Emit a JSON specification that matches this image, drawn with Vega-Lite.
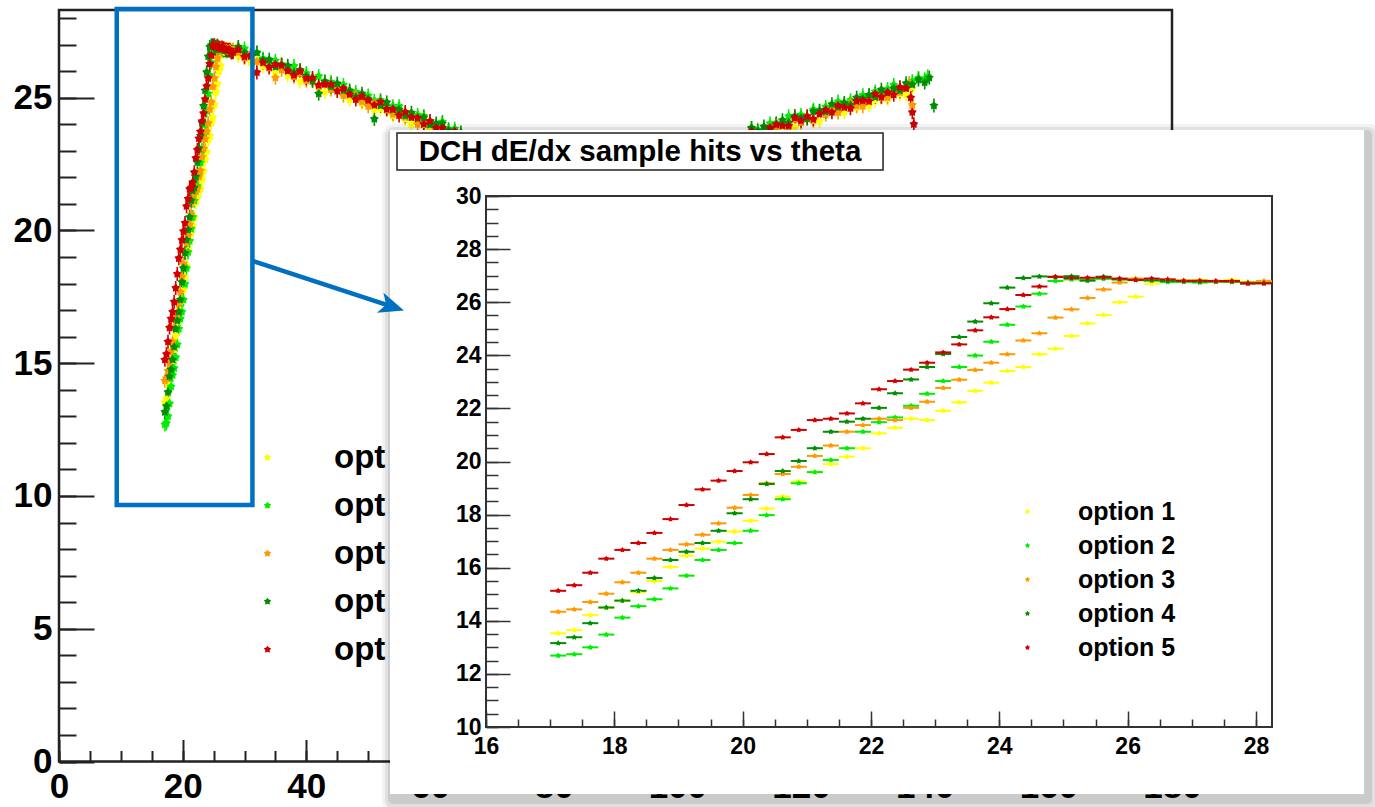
{
"$schema": "https://vega.github.io/schema/vega-lite/v6.json",
"width": 1375, "height": 807, "autosize": {"type": "none"}, "padding": 0, "background": "white",
"config": {"view": {"stroke": null}, "axis": {"grid": false}, "font": "Liberation Sans"},
"datasets": {"hits": [
{"s":"option 1","t":17.125,"v":13.53},{"s":"option 1","t":17.375,"v":13.65},{"s":"option 1","t":17.625,"v":14.22},{"s":"option 1","t":17.875,"v":14.5},{"s":"option 1","t":18.125,"v":14.76},{"s":"option 1","t":18.375,"v":15.08},{"s":"option 1","t":18.625,"v":15.5},{"s":"option 1","t":18.875,"v":16.03},{"s":"option 1","t":19.125,"v":16.45},{"s":"option 1","t":19.375,"v":16.72},{"s":"option 1","t":19.625,"v":16.98},{"s":"option 1","t":19.875,"v":17.36},{"s":"option 1","t":20.125,"v":17.77},{"s":"option 1","t":20.375,"v":18.23},{"s":"option 1","t":20.625,"v":18.68},{"s":"option 1","t":20.875,"v":19.24},{"s":"option 1","t":21.125,"v":19.6},{"s":"option 1","t":21.375,"v":19.9},{"s":"option 1","t":21.625,"v":20.18},{"s":"option 1","t":21.875,"v":20.5},{"s":"option 1","t":22.125,"v":21.06},{"s":"option 1","t":22.375,"v":21.27},{"s":"option 1","t":22.625,"v":21.61},{"s":"option 1","t":22.875,"v":21.56},{"s":"option 1","t":23.125,"v":21.91},{"s":"option 1","t":23.375,"v":22.23},{"s":"option 1","t":23.625,"v":22.66},{"s":"option 1","t":23.875,"v":22.97},{"s":"option 1","t":24.125,"v":23.41},{"s":"option 1","t":24.375,"v":23.56},{"s":"option 1","t":24.625,"v":24.04},{"s":"option 1","t":24.875,"v":24.25},{"s":"option 1","t":25.125,"v":24.73},{"s":"option 1","t":25.375,"v":25.2},{"s":"option 1","t":25.625,"v":25.52},{"s":"option 1","t":25.875,"v":26.0},{"s":"option 1","t":26.125,"v":26.21},{"s":"option 1","t":26.375,"v":26.7},{"s":"option 1","t":26.625,"v":26.85},{"s":"option 1","t":26.875,"v":26.82},{"s":"option 1","t":27.125,"v":26.84},{"s":"option 1","t":27.375,"v":26.8},{"s":"option 1","t":27.625,"v":26.84},{"s":"option 1","t":27.875,"v":26.76},{"s":"option 1","t":28.125,"v":26.78},
{"s":"option 1","t":29,"v":26.58},{"s":"option 1","t":30,"v":26.56},{"s":"option 1","t":31,"v":26.33},{"s":"option 1","t":32,"v":26.45},{"s":"option 1","t":33,"v":26.18},{"s":"option 1","t":34,"v":26.18},{"s":"option 1","t":35,"v":25.94},{"s":"option 1","t":36,"v":26.06},{"s":"option 1","t":37,"v":25.85},{"s":"option 1","t":38,"v":25.88},{"s":"option 1","t":39,"v":25.61},{"s":"option 1","t":40,"v":25.65},{"s":"option 1","t":41,"v":25.66},{"s":"option 1","t":42,"v":25.39},{"s":"option 1","t":43,"v":25.22},{"s":"option 1","t":44,"v":25.32},{"s":"option 1","t":45,"v":25.28},{"s":"option 1","t":46,"v":25.08},{"s":"option 1","t":47,"v":24.92},{"s":"option 1","t":48,"v":25.06},{"s":"option 1","t":49,"v":24.79},{"s":"option 1","t":50,"v":24.8},{"s":"option 1","t":51,"v":24.54},{"s":"option 1","t":52,"v":24.58},{"s":"option 1","t":53,"v":24.57},{"s":"option 1","t":54,"v":24.32},{"s":"option 1","t":55,"v":24.41},{"s":"option 1","t":56,"v":24.19},{"s":"option 1","t":57,"v":24.0},{"s":"option 1","t":58,"v":24.11},{"s":"option 1","t":59,"v":23.97},{"s":"option 1","t":60,"v":23.78},{"s":"option 1","t":61,"v":23.91},{"s":"option 1","t":62,"v":23.64},{"s":"option 1","t":63,"v":23.64},{"s":"option 1","t":64,"v":23.4},{"s":"option 1","t":65,"v":23.52},
{"s":"option 1","t":112,"v":23.61},{"s":"option 1","t":113,"v":23.5},{"s":"option 1","t":114,"v":23.66},{"s":"option 1","t":115,"v":23.58},{"s":"option 1","t":116,"v":23.85},{"s":"option 1","t":117,"v":23.8},{"s":"option 1","t":118,"v":23.99},{"s":"option 1","t":119,"v":23.88},{"s":"option 1","t":120,"v":24.08},{"s":"option 1","t":121,"v":24.24},{"s":"option 1","t":122,"v":24.13},{"s":"option 1","t":123,"v":24.12},{"s":"option 1","t":124,"v":24.38},{"s":"option 1","t":125,"v":24.5},{"s":"option 1","t":126,"v":24.45},{"s":"option 1","t":127,"v":24.45},{"s":"option 1","t":128,"v":24.75},{"s":"option 1","t":129,"v":24.64},{"s":"option 1","t":130,"v":24.81},{"s":"option 1","t":131,"v":24.7},{"s":"option 1","t":132,"v":24.9},{"s":"option 1","t":133,"v":25.05},{"s":"option 1","t":134,"v":24.96},{"s":"option 1","t":135,"v":25.21},{"s":"option 1","t":136,"v":25.14},{"s":"option 1","t":137,"v":25.11},{"s":"option 1","t":138,"v":25.38},
{"s":"option 2","t":17.125,"v":12.69},{"s":"option 2","t":17.375,"v":12.74},{"s":"option 2","t":17.625,"v":13.0},{"s":"option 2","t":17.875,"v":13.48},{"s":"option 2","t":18.125,"v":14.12},{"s":"option 2","t":18.375,"v":14.55},{"s":"option 2","t":18.625,"v":14.81},{"s":"option 2","t":18.875,"v":15.22},{"s":"option 2","t":19.125,"v":15.7},{"s":"option 2","t":19.375,"v":16.29},{"s":"option 2","t":19.625,"v":16.67},{"s":"option 2","t":19.875,"v":16.93},{"s":"option 2","t":20.125,"v":17.39},{"s":"option 2","t":20.375,"v":17.98},{"s":"option 2","t":20.625,"v":18.58},{"s":"option 2","t":20.875,"v":19.18},{"s":"option 2","t":21.125,"v":19.6},{"s":"option 2","t":21.375,"v":20.06},{"s":"option 2","t":21.625,"v":20.5},{"s":"option 2","t":21.875,"v":21.12},{"s":"option 2","t":22.125,"v":21.48},{"s":"option 2","t":22.375,"v":21.66},{"s":"option 2","t":22.625,"v":22.1},{"s":"option 2","t":22.875,"v":22.55},{"s":"option 2","t":23.125,"v":23.03},{"s":"option 2","t":23.375,"v":23.56},{"s":"option 2","t":23.625,"v":23.99},{"s":"option 2","t":23.875,"v":24.51},{"s":"option 2","t":24.125,"v":25.15},{"s":"option 2","t":24.375,"v":25.84},{"s":"option 2","t":24.625,"v":26.32},{"s":"option 2","t":24.875,"v":26.8},{"s":"option 2","t":25.125,"v":26.86},{"s":"option 2","t":25.375,"v":26.85},{"s":"option 2","t":25.625,"v":26.88},{"s":"option 2","t":25.875,"v":26.85},{"s":"option 2","t":26.125,"v":26.83},{"s":"option 2","t":26.375,"v":26.82},{"s":"option 2","t":26.625,"v":26.76},{"s":"option 2","t":26.875,"v":26.78},{"s":"option 2","t":27.125,"v":26.74},{"s":"option 2","t":27.375,"v":26.78},{"s":"option 2","t":27.625,"v":26.76},{"s":"option 2","t":27.875,"v":26.74},{"s":"option 2","t":28.125,"v":26.72},
{"s":"option 2","t":29,"v":26.86},{"s":"option 2","t":30,"v":26.85},{"s":"option 2","t":31,"v":26.61},{"s":"option 2","t":32,"v":26.7},{"s":"option 2","t":33,"v":26.47},{"s":"option 2","t":34,"v":26.28},{"s":"option 2","t":35,"v":26.39},{"s":"option 2","t":36,"v":26.26},{"s":"option 2","t":37,"v":26.07},{"s":"option 2","t":38,"v":26.19},{"s":"option 2","t":39,"v":25.92},{"s":"option 2","t":40,"v":25.92},{"s":"option 2","t":41,"v":25.69},{"s":"option 2","t":42,"v":25.81},{"s":"option 2","t":43,"v":25.61},{"s":"option 2","t":44,"v":25.59},{"s":"option 2","t":45,"v":25.35},{"s":"option 2","t":46,"v":25.48},{"s":"option 2","t":47,"v":25.21},{"s":"option 2","t":48,"v":25.21},{"s":"option 2","t":49,"v":24.97},{"s":"option 2","t":50,"v":25.08},{"s":"option 2","t":51,"v":24.88},{"s":"option 2","t":52,"v":24.91},{"s":"option 2","t":53,"v":24.64},{"s":"option 2","t":54,"v":24.68},{"s":"option 2","t":55,"v":24.68},{"s":"option 2","t":56,"v":24.42},{"s":"option 2","t":57,"v":24.25},{"s":"option 2","t":58,"v":24.35},{"s":"option 2","t":59,"v":24.31},{"s":"option 2","t":60,"v":24.1},{"s":"option 2","t":61,"v":23.95},{"s":"option 2","t":62,"v":24.09},{"s":"option 2","t":63,"v":23.82},{"s":"option 2","t":64,"v":23.83},{"s":"option 2","t":65,"v":23.56},
{"s":"option 2","t":112,"v":23.86},{"s":"option 2","t":113,"v":23.79},{"s":"option 2","t":114,"v":23.76},{"s":"option 2","t":115,"v":24.03},{"s":"option 2","t":116,"v":24.05},{"s":"option 2","t":117,"v":24.02},{"s":"option 2","t":118,"v":24.3},{"s":"option 2","t":119,"v":24.19},{"s":"option 2","t":120,"v":24.35},{"s":"option 2","t":121,"v":24.27},{"s":"option 2","t":122,"v":24.55},{"s":"option 2","t":123,"v":24.51},{"s":"option 2","t":124,"v":24.65},{"s":"option 2","t":125,"v":24.57},{"s":"option 2","t":126,"v":24.85},{"s":"option 2","t":127,"v":24.74},{"s":"option 2","t":128,"v":24.9},{"s":"option 2","t":129,"v":24.82},{"s":"option 2","t":130,"v":25.09},{"s":"option 2","t":131,"v":25.04},{"s":"option 2","t":132,"v":25.23},{"s":"option 2","t":133,"v":25.12},{"s":"option 2","t":134,"v":25.32},{"s":"option 2","t":135,"v":25.48},{"s":"option 2","t":136,"v":25.37},{"s":"option 2","t":137,"v":25.36},{"s":"option 2","t":138,"v":25.62},{"s":"option 2","t":139,"v":25.74},{"s":"option 2","t":140,"v":25.69},{"s":"option 2","t":140.5,"v":25.8},
{"s":"option 3","t":17.125,"v":14.34},{"s":"option 3","t":17.375,"v":14.43},{"s":"option 3","t":17.625,"v":14.71},{"s":"option 3","t":17.875,"v":15.02},{"s":"option 3","t":18.125,"v":15.45},{"s":"option 3","t":18.375,"v":15.81},{"s":"option 3","t":18.625,"v":16.34},{"s":"option 3","t":18.875,"v":16.67},{"s":"option 3","t":19.125,"v":16.88},{"s":"option 3","t":19.375,"v":17.24},{"s":"option 3","t":19.625,"v":17.67},{"s":"option 3","t":19.875,"v":18.26},{"s":"option 3","t":20.125,"v":18.74},{"s":"option 3","t":20.375,"v":19.18},{"s":"option 3","t":20.625,"v":19.53},{"s":"option 3","t":20.875,"v":19.8},{"s":"option 3","t":21.125,"v":20.21},{"s":"option 3","t":21.375,"v":20.6},{"s":"option 3","t":21.625,"v":21.12},{"s":"option 3","t":21.875,"v":21.37},{"s":"option 3","t":22.125,"v":21.61},{"s":"option 3","t":22.375,"v":21.56},{"s":"option 3","t":22.625,"v":22.02},{"s":"option 3","t":22.875,"v":22.25},{"s":"option 3","t":23.125,"v":22.77},{"s":"option 3","t":23.375,"v":23.08},{"s":"option 3","t":23.625,"v":23.45},{"s":"option 3","t":23.875,"v":23.72},{"s":"option 3","t":24.125,"v":24.04},{"s":"option 3","t":24.375,"v":24.56},{"s":"option 3","t":24.625,"v":24.83},{"s":"option 3","t":24.875,"v":25.42},{"s":"option 3","t":25.125,"v":25.73},{"s":"option 3","t":25.375,"v":26.16},{"s":"option 3","t":25.625,"v":26.48},{"s":"option 3","t":25.875,"v":26.74},{"s":"option 3","t":26.125,"v":26.89},{"s":"option 3","t":26.375,"v":26.85},{"s":"option 3","t":26.625,"v":26.82},{"s":"option 3","t":26.875,"v":26.8},{"s":"option 3","t":27.125,"v":26.8},{"s":"option 3","t":27.375,"v":26.78},{"s":"option 3","t":27.625,"v":26.78},{"s":"option 3","t":27.875,"v":26.75},{"s":"option 3","t":28.125,"v":26.8},
{"s":"option 3","t":29,"v":26.69},{"s":"option 3","t":30,"v":26.5},{"s":"option 3","t":31,"v":26.63},{"s":"option 3","t":32,"v":26.36},{"s":"option 3","t":33,"v":26.36},{"s":"option 3","t":34,"v":26.12},{"s":"option 3","t":35,"v":25.75},{"s":"option 3","t":36,"v":26.05},{"s":"option 3","t":37,"v":26.03},{"s":"option 3","t":38,"v":25.79},{"s":"option 3","t":39,"v":25.91},{"s":"option 3","t":40,"v":25.64},{"s":"option 3","t":41,"v":25.65},{"s":"option 3","t":42,"v":25.41},{"s":"option 3","t":43,"v":25.52},{"s":"option 3","t":44,"v":25.31},{"s":"option 3","t":45,"v":25.34},{"s":"option 3","t":46,"v":25.08},{"s":"option 3","t":47,"v":25.12},{"s":"option 3","t":48,"v":25.12},{"s":"option 3","t":49,"v":24.85},{"s":"option 3","t":50,"v":24.68},{"s":"option 3","t":51,"v":24.79},{"s":"option 3","t":52,"v":24.75},{"s":"option 3","t":53,"v":24.54},{"s":"option 3","t":54,"v":24.38},{"s":"option 3","t":55,"v":24.52},{"s":"option 3","t":56,"v":24.26},{"s":"option 3","t":57,"v":24.27},{"s":"option 3","t":58,"v":24.0},{"s":"option 3","t":59,"v":24.04},{"s":"option 3","t":60,"v":24.03},{"s":"option 3","t":61,"v":23.79},{"s":"option 3","t":62,"v":23.88},{"s":"option 3","t":63,"v":23.65},{"s":"option 3","t":64,"v":23.46},{"s":"option 3","t":65,"v":23.57},
{"s":"option 3","t":112,"v":23.51},{"s":"option 3","t":113,"v":23.67},{"s":"option 3","t":114,"v":23.59},{"s":"option 3","t":115,"v":23.87},{"s":"option 3","t":116,"v":23.83},{"s":"option 3","t":117,"v":23.97},{"s":"option 3","t":118,"v":23.89},{"s":"option 3","t":119,"v":24.17},{"s":"option 3","t":120,"v":24.06},{"s":"option 3","t":121,"v":24.22},{"s":"option 3","t":122,"v":24.14},{"s":"option 3","t":123,"v":24.41},{"s":"option 3","t":124,"v":24.36},{"s":"option 3","t":125,"v":24.55},{"s":"option 3","t":126,"v":24.44},{"s":"option 3","t":127,"v":24.64},{"s":"option 3","t":128,"v":24.8},{"s":"option 3","t":129,"v":24.69},{"s":"option 3","t":130,"v":24.68},{"s":"option 3","t":131,"v":24.94},{"s":"option 3","t":132,"v":25.06},{"s":"option 3","t":133,"v":25.01},{"s":"option 3","t":134,"v":25.01},{"s":"option 3","t":135,"v":25.31},{"s":"option 3","t":136,"v":25.2},{"s":"option 3","t":137,"v":25.37},{"s":"option 3","t":137.5,"v":25.55},{"s":"option 3","t":138,"v":24.72},
{"s":"option 4","t":17.125,"v":13.16},{"s":"option 4","t":17.375,"v":13.38},{"s":"option 4","t":17.625,"v":13.91},{"s":"option 4","t":17.875,"v":14.5},{"s":"option 4","t":18.125,"v":14.76},{"s":"option 4","t":18.375,"v":15.13},{"s":"option 4","t":18.625,"v":15.61},{"s":"option 4","t":18.875,"v":16.29},{"s":"option 4","t":19.125,"v":16.6},{"s":"option 4","t":19.375,"v":16.93},{"s":"option 4","t":19.625,"v":17.39},{"s":"option 4","t":19.875,"v":18.05},{"s":"option 4","t":20.125,"v":18.58},{"s":"option 4","t":20.375,"v":19.15},{"s":"option 4","t":20.625,"v":19.64},{"s":"option 4","t":20.875,"v":20.02},{"s":"option 4","t":21.125,"v":20.5},{"s":"option 4","t":21.375,"v":21.12},{"s":"option 4","t":21.625,"v":21.5},{"s":"option 4","t":21.875,"v":21.61},{"s":"option 4","t":22.125,"v":22.02},{"s":"option 4","t":22.375,"v":22.57},{"s":"option 4","t":22.625,"v":23.09},{"s":"option 4","t":22.875,"v":23.56},{"s":"option 4","t":23.125,"v":24.05},{"s":"option 4","t":23.375,"v":24.69},{"s":"option 4","t":23.625,"v":25.27},{"s":"option 4","t":23.875,"v":25.96},{"s":"option 4","t":24.125,"v":26.55},{"s":"option 4","t":24.375,"v":26.91},{"s":"option 4","t":24.625,"v":26.97},{"s":"option 4","t":24.875,"v":26.95},{"s":"option 4","t":25.125,"v":26.98},{"s":"option 4","t":25.375,"v":26.81},{"s":"option 4","t":25.625,"v":26.96},{"s":"option 4","t":25.875,"v":26.87},{"s":"option 4","t":26.125,"v":26.84},{"s":"option 4","t":26.375,"v":26.82},{"s":"option 4","t":26.625,"v":26.8},{"s":"option 4","t":26.875,"v":26.78},{"s":"option 4","t":27.125,"v":26.78},{"s":"option 4","t":27.375,"v":26.78},{"s":"option 4","t":27.625,"v":26.78},{"s":"option 4","t":27.875,"v":26.72},{"s":"option 4","t":28.125,"v":26.72},
{"s":"option 4","t":29,"v":26.91},{"s":"option 4","t":30,"v":26.7},{"s":"option 4","t":31,"v":26.55},{"s":"option 4","t":32,"v":26.69},{"s":"option 4","t":33,"v":26.42},{"s":"option 4","t":34,"v":26.43},{"s":"option 4","t":35,"v":26.16},{"s":"option 4","t":36,"v":26.21},{"s":"option 4","t":37,"v":26.2},{"s":"option 4","t":38,"v":25.95},{"s":"option 4","t":39,"v":26.04},{"s":"option 4","t":40,"v":25.81},{"s":"option 4","t":41,"v":25.63},{"s":"option 4","t":42,"v":25.15},{"s":"option 4","t":43,"v":25.6},{"s":"option 4","t":44,"v":25.41},{"s":"option 4","t":45,"v":25.53},{"s":"option 4","t":46,"v":25.27},{"s":"option 4","t":47,"v":25.27},{"s":"option 4","t":48,"v":25.03},{"s":"option 4","t":49,"v":25.15},{"s":"option 4","t":50,"v":24.95},{"s":"option 4","t":51,"v":24.2},{"s":"option 4","t":52,"v":24.7},{"s":"option 4","t":53,"v":24.82},{"s":"option 4","t":54,"v":24.55},{"s":"option 4","t":55,"v":24.55},{"s":"option 4","t":56,"v":24.32},{"s":"option 4","t":57,"v":24.43},{"s":"option 4","t":58,"v":24.22},{"s":"option 4","t":59,"v":24.25},{"s":"option 4","t":60,"v":23.98},{"s":"option 4","t":61,"v":24.03},{"s":"option 4","t":62,"v":24.03},{"s":"option 4","t":63,"v":23.76},{"s":"option 4","t":64,"v":23.59},{"s":"option 4","t":65,"v":23.69},
{"s":"option 4","t":112,"v":23.85},{"s":"option 4","t":113,"v":23.74},{"s":"option 4","t":114,"v":23.91},{"s":"option 4","t":115,"v":23.8},{"s":"option 4","t":116,"v":24.0},{"s":"option 4","t":117,"v":24.15},{"s":"option 4","t":118,"v":24.06},{"s":"option 4","t":119,"v":24.31},{"s":"option 4","t":120,"v":24.24},{"s":"option 4","t":121,"v":24.21},{"s":"option 4","t":122,"v":24.48},{"s":"option 4","t":123,"v":24.5},{"s":"option 4","t":124,"v":24.47},{"s":"option 4","t":125,"v":24.75},{"s":"option 4","t":126,"v":24.64},{"s":"option 4","t":127,"v":24.8},{"s":"option 4","t":128,"v":24.72},{"s":"option 4","t":129,"v":25.0},{"s":"option 4","t":130,"v":24.96},{"s":"option 4","t":131,"v":25.1},{"s":"option 4","t":132,"v":25.02},{"s":"option 4","t":133,"v":25.3},{"s":"option 4","t":134,"v":25.19},{"s":"option 4","t":135,"v":25.35},{"s":"option 4","t":136,"v":25.27},{"s":"option 4","t":137,"v":25.54},{"s":"option 4","t":138,"v":25.49},{"s":"option 4","t":139,"v":25.68},{"s":"option 4","t":140,"v":25.57},{"s":"option 4","t":140.75,"v":25.75},{"s":"option 4","t":141.5,"v":24.7},
{"s":"option 5","t":17.125,"v":15.13},{"s":"option 5","t":17.375,"v":15.34},{"s":"option 5","t":17.625,"v":15.81},{"s":"option 5","t":17.875,"v":16.34},{"s":"option 5","t":18.125,"v":16.67},{"s":"option 5","t":18.375,"v":16.93},{"s":"option 5","t":18.625,"v":17.31},{"s":"option 5","t":18.875,"v":17.83},{"s":"option 5","t":19.125,"v":18.36},{"s":"option 5","t":19.375,"v":18.95},{"s":"option 5","t":19.625,"v":19.28},{"s":"option 5","t":19.875,"v":19.64},{"s":"option 5","t":20.125,"v":19.97},{"s":"option 5","t":20.375,"v":20.28},{"s":"option 5","t":20.625,"v":20.91},{"s":"option 5","t":20.875,"v":21.19},{"s":"option 5","t":21.125,"v":21.56},{"s":"option 5","t":21.375,"v":21.61},{"s":"option 5","t":21.625,"v":21.81},{"s":"option 5","t":21.875,"v":22.19},{"s":"option 5","t":22.125,"v":22.72},{"s":"option 5","t":22.375,"v":23.03},{"s":"option 5","t":22.625,"v":23.46},{"s":"option 5","t":22.875,"v":23.72},{"s":"option 5","t":23.125,"v":24.11},{"s":"option 5","t":23.375,"v":24.41},{"s":"option 5","t":23.625,"v":24.94},{"s":"option 5","t":23.875,"v":25.43},{"s":"option 5","t":24.125,"v":25.74},{"s":"option 5","t":24.375,"v":26.27},{"s":"option 5","t":24.625,"v":26.59},{"s":"option 5","t":24.875,"v":26.96},{"s":"option 5","t":25.125,"v":26.91},{"s":"option 5","t":25.375,"v":26.92},{"s":"option 5","t":25.625,"v":26.93},{"s":"option 5","t":25.875,"v":26.89},{"s":"option 5","t":26.125,"v":26.84},{"s":"option 5","t":26.375,"v":26.89},{"s":"option 5","t":26.625,"v":26.86},{"s":"option 5","t":26.875,"v":26.81},{"s":"option 5","t":27.125,"v":26.81},{"s":"option 5","t":27.375,"v":26.8},{"s":"option 5","t":27.625,"v":26.8},{"s":"option 5","t":27.875,"v":26.7},{"s":"option 5","t":28.125,"v":26.71},
{"s":"option 5","t":29,"v":26.81},{"s":"option 5","t":30,"v":26.54},{"s":"option 5","t":31,"v":26.59},{"s":"option 5","t":32,"v":25.95},{"s":"option 5","t":33,"v":26.32},{"s":"option 5","t":34,"v":26.15},{"s":"option 5","t":35,"v":26.25},{"s":"option 5","t":36,"v":26.22},{"s":"option 5","t":37,"v":26.01},{"s":"option 5","t":38,"v":25.85},{"s":"option 5","t":39,"v":25.99},{"s":"option 5","t":40,"v":25.72},{"s":"option 5","t":41,"v":25.74},{"s":"option 5","t":42,"v":25.47},{"s":"option 5","t":43,"v":25.51},{"s":"option 5","t":44,"v":25.5},{"s":"option 5","t":45,"v":25.25},{"s":"option 5","t":46,"v":25.35},{"s":"option 5","t":47,"v":25.12},{"s":"option 5","t":48,"v":24.93},{"s":"option 5","t":49,"v":25.04},{"s":"option 5","t":50,"v":24.9},{"s":"option 5","t":51,"v":24.72},{"s":"option 5","t":52,"v":24.84},{"s":"option 5","t":53,"v":24.57},{"s":"option 5","t":54,"v":24.57},{"s":"option 5","t":55,"v":24.33},{"s":"option 5","t":56,"v":24.46},{"s":"option 5","t":57,"v":24.26},{"s":"option 5","t":58,"v":24.24},{"s":"option 5","t":59,"v":24.0},{"s":"option 5","t":60,"v":24.12},{"s":"option 5","t":61,"v":23.86},{"s":"option 5","t":62,"v":23.86},{"s":"option 5","t":63,"v":23.62},{"s":"option 5","t":64,"v":23.73},{"s":"option 5","t":65,"v":23.52},
{"s":"option 5","t":112,"v":23.73},{"s":"option 5","t":113,"v":23.62},{"s":"option 5","t":114,"v":23.61},{"s":"option 5","t":115,"v":23.87},{"s":"option 5","t":116,"v":23.99},{"s":"option 5","t":117,"v":23.94},{"s":"option 5","t":118,"v":23.94},{"s":"option 5","t":119,"v":24.24},{"s":"option 5","t":120,"v":24.13},{"s":"option 5","t":121,"v":24.3},{"s":"option 5","t":122,"v":24.19},{"s":"option 5","t":123,"v":24.39},{"s":"option 5","t":124,"v":24.54},{"s":"option 5","t":125,"v":24.45},{"s":"option 5","t":126,"v":24.7},{"s":"option 5","t":127,"v":24.63},{"s":"option 5","t":128,"v":24.6},{"s":"option 5","t":129,"v":24.87},{"s":"option 5","t":130,"v":24.89},{"s":"option 5","t":131,"v":24.86},{"s":"option 5","t":132,"v":25.14},{"s":"option 5","t":133,"v":25.03},{"s":"option 5","t":134,"v":25.19},{"s":"option 5","t":135,"v":25.11},{"s":"option 5","t":136,"v":25.39},{"s":"option 5","t":137,"v":25.35},{"s":"option 5","t":137.75,"v":25.0},{"s":"option 5","t":138,"v":24.45},{"s":"option 5","t":138.25,"v":24.0}
]},
"data": {"name": "hits"},
"resolve": {"scale": {"x": "independent", "y": "independent", "color": "independent"}, "axis": {"x": "independent", "y": "independent"}, "legend": {"color": "independent"}},
"layer": [
{"data": {"values": [{}]},
 "mark": {"type": "rect", "filled": false, "stroke": "#222222", "strokeWidth": 2.5},
 "encoding": {
  "x": {"datum": 0, "type": "quantitative", "scale": {"domain": [0, 180], "range": [59, 1172], "nice": false, "zero": false},
        "axis": {"orient": "bottom", "offset": -45.5, "title": null, "values": [0,5,10,15,20,25,30,35,40,45,50,55,60,65,70,75,80,85,90,95,100,105,110,115,120,125,130,135,140,145,150,155,160,165,170,175,180], "tickSize": -11, "tickWidth": 2, "tickColor": "#222222", "labels": false, "domain": false, "grid": false, "zindex": 0}},
  "x2": {"datum": 180},
  "y": {"datum": 0, "type": "quantitative", "scale": {"domain": [0, 28.3], "range": [761.5, 10], "nice": false, "zero": false},
        "axis": {"orient": "left", "offset": -59, "title": null, "values": [0,1,2,3,4,5,6,7,8,9,10,11,12,13,14,15,16,17,18,19,20,21,22,23,24,25,26,27,28], "tickSize": -17, "tickWidth": 2, "tickColor": "#222222", "labels": false, "domain": false, "grid": false, "zindex": 0}},
  "y2": {"datum": 28.3}}},
{"mark": {"type": "tick", "orient": "vertical", "size": 14, "thickness": 1.6, "opacity": 1},
 "encoding": {
  "x": {"field": "t", "type": "quantitative", "scale": {"domain": [0, 180], "range": [59, 1172], "nice": false, "zero": false},
        "axis": {"orient": "bottom", "offset": -45.5, "title": null, "values": [0,20,40,60,80,100,120,140,160,180], "tickSize": -22, "tickWidth": 2, "tickColor": "#222222", "labels": false, "domain": false, "grid": false, "zindex": 0}},
  "y": {"field": "v", "type": "quantitative", "scale": {"domain": [0, 28.3], "range": [761.5, 10], "nice": false, "zero": false},
        "axis": {"orient": "left", "offset": -59, "title": null, "values": [0,5,10,15,20,25], "tickSize": -35, "tickWidth": 2, "tickColor": "#222222", "labels": false, "domain": false, "grid": false, "zindex": 0}},
  "color": {"field": "s", "type": "nominal", "legend": null,
            "scale": {"domain": ["option 1","option 2","option 3","option 4","option 5"], "range": ["#ffff00","#00ee00","#ff9900","#008f00","#d00000"]}}}},
{"mark": {"type": "point", "filled": true, "opacity": 1, "size": 90, "strokeWidth": 0,
          "shape": "M0,-1L0.35,-0.49L0.95,-0.31L0.57,0.19L0.59,0.81L0,0.6L-0.59,0.81L-0.57,0.19L-0.95,-0.31L-0.35,-0.49Z"},
 "encoding": {
  "x": {"field": "t", "type": "quantitative", "scale": {"domain": [0, 180], "range": [59, 1172], "nice": false, "zero": false},
        "axis": {"orient": "bottom", "offset": -45.5, "title": null, "values": [0,20,40,60,80,100,120,140,160,180], "ticks": false, "domain": false, "grid": false, "labelPadding": 8, "labelFont": "Liberation Sans", "labelFontWeight": "bold", "labelFontSize": 35, "labelColor": "#000000", "labelFlush": false, "labelOverlap": false, "zindex": 0}},
  "y": {"field": "v", "type": "quantitative", "scale": {"domain": [0, 28.3], "range": [761.5, 10], "nice": false, "zero": false},
        "axis": {"orient": "left", "offset": -59, "title": null, "values": [0,5,10,15,20,25], "ticks": false, "domain": false, "grid": false, "labelPadding": 7, "labelFont": "Liberation Sans", "labelFontWeight": "bold", "labelFontSize": 35, "labelColor": "#000000", "labelFlush": false, "labelOverlap": false, "zindex": 0}},
  "color": {"field": "s", "type": "nominal",
            "scale": {"domain": ["option 1","option 2","option 3","option 4","option 5"], "range": ["#ffff00","#00ee00","#ff9900","#008f00","#d00000"]},
            "legend": {"orient": "none", "legendX": 251, "legendY": 441, "title": null, "padding": 0,
                       "symbolType": "M0,-1L0.35,-0.49L0.95,-0.31L0.57,0.19L0.59,0.81L0,0.6L-0.59,0.81L-0.57,0.19L-0.95,-0.31L-0.35,-0.49Z",
                       "symbolSize": 60, "symbolStrokeWidth": 0, "labelFont": "Liberation Sans", "labelFontWeight": "bold", "labelFontSize": 33, "labelColor": "#000000",
                       "labelOffset": 50, "rowPadding": 14, "labelLimit": 300, "labelExpr": "substring(datum.label, 0, 3)"}}}},
{"data": {"values": [{}]},
 "mark": {"type": "rect", "filled": false, "stroke": "#0070c0", "strokeWidth": 4.5},
 "encoding": {
  "x": {"datum": 9.34, "type": "quantitative", "scale": {"domain": [0, 180], "range": [59, 1172], "nice": false, "zero": false}, "axis": null},
  "x2": {"datum": 31.28},
  "y": {"datum": 9.66, "type": "quantitative", "scale": {"domain": [0, 28.3], "range": [761.5, 10], "nice": false, "zero": false}, "axis": null},
  "y2": {"datum": 28.34}}},
{"data": {"values": [{}]},
 "mark": {"type": "rect", "filled": false, "stroke": "#000000", "strokeOpacity": 0.05, "strokeWidth": 26, "strokeJoin": "round", "xOffset": 5, "x2Offset": 5, "yOffset": 7, "y2Offset": 7},
 "encoding": {
  "x": {"datum": 14.504, "type": "quantitative", "scale": {"domain": [16, 28.25], "range": [486, 1272], "nice": false, "zero": false}, "axis": null},
  "x2": {"datum": 29.685},
  "y": {"datum": 32.486, "type": "quantitative", "scale": {"domain": [10, 30], "range": [727, 196], "nice": false, "zero": false}, "axis": null},
  "y2": {"datum": 7.477}}},
{"data": {"values": [{}]},
 "mark": {"type": "rect", "filled": false, "stroke": "#000000", "strokeOpacity": 0.07, "strokeWidth": 18, "strokeJoin": "round", "xOffset": 4, "x2Offset": 4, "yOffset": 6, "y2Offset": 6},
 "encoding": {
  "x": {"datum": 14.504, "type": "quantitative", "scale": {"domain": [16, 28.25], "range": [486, 1272], "nice": false, "zero": false}, "axis": null},
  "x2": {"datum": 29.685},
  "y": {"datum": 32.486, "type": "quantitative", "scale": {"domain": [10, 30], "range": [727, 196], "nice": false, "zero": false}, "axis": null},
  "y2": {"datum": 7.477}}},
{"data": {"values": [{}]},
 "mark": {"type": "rect", "filled": false, "stroke": "#000000", "strokeOpacity": 0.09, "strokeWidth": 10, "strokeJoin": "round", "xOffset": 3, "x2Offset": 3, "yOffset": 5, "y2Offset": 5},
 "encoding": {
  "x": {"datum": 14.504, "type": "quantitative", "scale": {"domain": [16, 28.25], "range": [486, 1272], "nice": false, "zero": false}, "axis": null},
  "x2": {"datum": 29.685},
  "y": {"datum": 32.486, "type": "quantitative", "scale": {"domain": [10, 30], "range": [727, 196], "nice": false, "zero": false}, "axis": null},
  "y2": {"datum": 7.477}}},
{"data": {"values": [{}]},
 "mark": {"type": "rect", "fill": "#ffffff", "stroke": null},
 "encoding": {
  "x": {"datum": 14.504, "type": "quantitative", "scale": {"domain": [16, 28.25], "range": [486, 1272], "nice": false, "zero": false}, "axis": null},
  "x2": {"datum": 29.685},
  "y": {"datum": 32.486, "type": "quantitative", "scale": {"domain": [10, 30], "range": [727, 196], "nice": false, "zero": false}, "axis": null},
  "y2": {"datum": 7.477}}},
{"data": {"values": [{}]},
 "mark": {"type": "rect", "fill": "#ffffff", "stroke": "#222222", "strokeWidth": 1.5},
 "encoding": {
  "x": {"datum": 14.613, "type": "quantitative", "scale": {"domain": [16, 28.25], "range": [486, 1272], "nice": false, "zero": false}, "axis": null},
  "x2": {"datum": 22.188},
  "y": {"datum": 32.373, "type": "quantitative", "scale": {"domain": [10, 30], "range": [727, 196], "nice": false, "zero": false}, "axis": null},
  "y2": {"datum": 30.979}}},
{"data": {"values": [{}]},
 "mark": {"type": "text", "font": "Liberation Sans", "fontWeight": "bold", "fontSize": 29.5, "align": "center", "baseline": "middle", "color": "#000000"},
 "encoding": {
  "x": {"datum": 18.4, "type": "quantitative", "scale": {"domain": [16, 28.25], "range": [486, 1272], "nice": false, "zero": false}, "axis": null},
  "y": {"datum": 31.676, "type": "quantitative", "scale": {"domain": [10, 30], "range": [727, 196], "nice": false, "zero": false}, "axis": null},
  "text": {"value": "DCH dE/dx sample hits vs theta"}}},
{"data": {"values": [{}]},
 "mark": {"type": "rect", "filled": false, "stroke": "#333333", "strokeWidth": 2},
 "encoding": {
  "x": {"datum": 16, "type": "quantitative", "scale": {"domain": [16, 28.25], "range": [486, 1272], "nice": false, "zero": false},
        "axis": {"orient": "bottom", "offset": -80, "title": null, "values": [16,16.5,17,17.5,18,18.5,19,19.5,20,20.5,21,21.5,22,22.5,23,23.5,24,24.5,25,25.5,26,26.5,27,27.5,28], "tickSize": -8, "tickWidth": 1.5, "tickColor": "#333333", "labels": false, "domain": false, "grid": false, "zindex": 1}},
  "x2": {"datum": 28.25},
  "y": {"datum": 10, "type": "quantitative", "scale": {"domain": [10, 30], "range": [727, 196], "nice": false, "zero": false},
        "axis": {"orient": "left", "offset": -486, "title": null, "values": [10,10.5,11,11.5,12,12.5,13,13.5,14,14.5,15,15.5,16,16.5,17,17.5,18,18.5,19,19.5,20,20.5,21,21.5,22,22.5,23,23.5,24,24.5,25,25.5,26,26.5,27,27.5,28,28.5,29,29.5,30], "tickSize": -12, "tickWidth": 1.5, "tickColor": "#333333", "labels": false, "domain": false, "grid": false, "zindex": 1}},
  "y2": {"datum": 30}}},
{"data": {"name": "hits"},
 "transform": [{"filter": "datum.t < 28.3"}],
 "mark": {"type": "tick", "orient": "horizontal", "size": 16, "thickness": 2, "opacity": 1},
 "encoding": {
  "x": {"field": "t", "type": "quantitative", "scale": {"domain": [16, 28.25], "range": [486, 1272], "nice": false, "zero": false},
        "axis": {"orient": "bottom", "offset": -80, "title": null, "values": [16,18,20,22,24,26,28], "tickSize": -16, "tickWidth": 1.5, "tickColor": "#333333", "labels": false, "domain": false, "grid": false, "zindex": 1}},
  "y": {"field": "v", "type": "quantitative", "scale": {"domain": [10, 30], "range": [727, 196], "nice": false, "zero": false},
        "axis": {"orient": "left", "offset": -486, "title": null, "values": [10,12,14,16,18,20,22,24,26,28,30], "tickSize": -24, "tickWidth": 1.5, "tickColor": "#333333", "labels": false, "domain": false, "grid": false, "zindex": 1}},
  "color": {"field": "s", "type": "nominal", "legend": null,
            "scale": {"domain": ["option 1","option 2","option 3","option 4","option 5"], "range": ["#ffff00","#00ee00","#ff9900","#008f00","#d00000"]}}}},
{"data": {"name": "hits"},
 "transform": [{"filter": "datum.t < 28.3"}],
 "mark": {"type": "point", "filled": true, "opacity": 1, "size": 36, "strokeWidth": 0,
          "shape": "M0,-1L0.35,-0.49L0.95,-0.31L0.57,0.19L0.59,0.81L0,0.6L-0.59,0.81L-0.57,0.19L-0.95,-0.31L-0.35,-0.49Z"},
 "encoding": {
  "x": {"field": "t", "type": "quantitative", "scale": {"domain": [16, 28.25], "range": [486, 1272], "nice": false, "zero": false},
        "axis": {"orient": "bottom", "offset": -80, "title": null, "values": [16,18,20,22,24,26,28], "ticks": false, "domain": false, "grid": false, "labelPadding": 8, "labelFont": "Liberation Sans", "labelFontWeight": "bold", "labelFontSize": 23, "labelColor": "#000000", "labelFlush": false, "labelOverlap": false, "zindex": 1}},
  "y": {"field": "v", "type": "quantitative", "scale": {"domain": [10, 30], "range": [727, 196], "nice": false, "zero": false},
        "axis": {"orient": "left", "offset": -486, "title": null, "values": [10,12,14,16,18,20,22,24,26,28,30], "ticks": false, "domain": false, "grid": false, "labelPadding": 5, "labelFont": "Liberation Sans", "labelFontWeight": "bold", "labelFontSize": 23, "labelColor": "#000000", "labelFlush": false, "labelOverlap": false, "zindex": 1}},
  "color": {"field": "s", "type": "nominal",
            "scale": {"domain": ["option 1","option 2","option 3","option 4","option 5"], "range": ["#ffff00","#00ee00","#ff9900","#008f00","#d00000"]},
            "legend": {"orient": "none", "legendX": 1015, "legendY": 499, "title": null, "padding": 0,
                       "symbolType": "M0,-1L0.35,-0.49L0.95,-0.31L0.57,0.19L0.59,0.81L0,0.6L-0.59,0.81L-0.57,0.19L-0.95,-0.31L-0.35,-0.49Z",
                       "symbolSize": 30, "symbolStrokeWidth": 0, "labelFont": "Liberation Sans", "labelFontWeight": "bold", "labelFontSize": 25, "labelColor": "#000000",
                       "labelOffset": 38, "rowPadding": 8, "labelLimit": 300}}}},
{"data": {"values": [{}]},
 "mark": {"type": "rule", "stroke": "#0070c0", "strokeWidth": 4.5},
 "encoding": {
  "x": {"datum": 31.38, "type": "quantitative", "scale": {"domain": [0, 180], "range": [59, 1172], "nice": false, "zero": false}, "axis": null},
  "x2": {"datum": 53.87},
  "y": {"datum": 18.85, "type": "quantitative", "scale": {"domain": [0, 28.3], "range": [761.5, 10], "nice": false, "zero": false}, "axis": null},
  "y2": {"datum": 17.13}}},
{"data": {"values": [{}]},
 "mark": {"type": "point", "filled": true, "opacity": 1, "fill": "#0070c0", "strokeWidth": 0, "size": 625, "angle": 18, "shape": "M1,0L-1,-0.85L-0.5,0L-1,0.85Z"},
 "encoding": {
  "x": {"datum": 53.87, "type": "quantitative", "scale": {"domain": [0, 180], "range": [59, 1172], "nice": false, "zero": false}, "axis": null},
  "y": {"datum": 17.13, "type": "quantitative", "scale": {"domain": [0, 28.3], "range": [761.5, 10], "nice": false, "zero": false}, "axis": null}}}
]
}
